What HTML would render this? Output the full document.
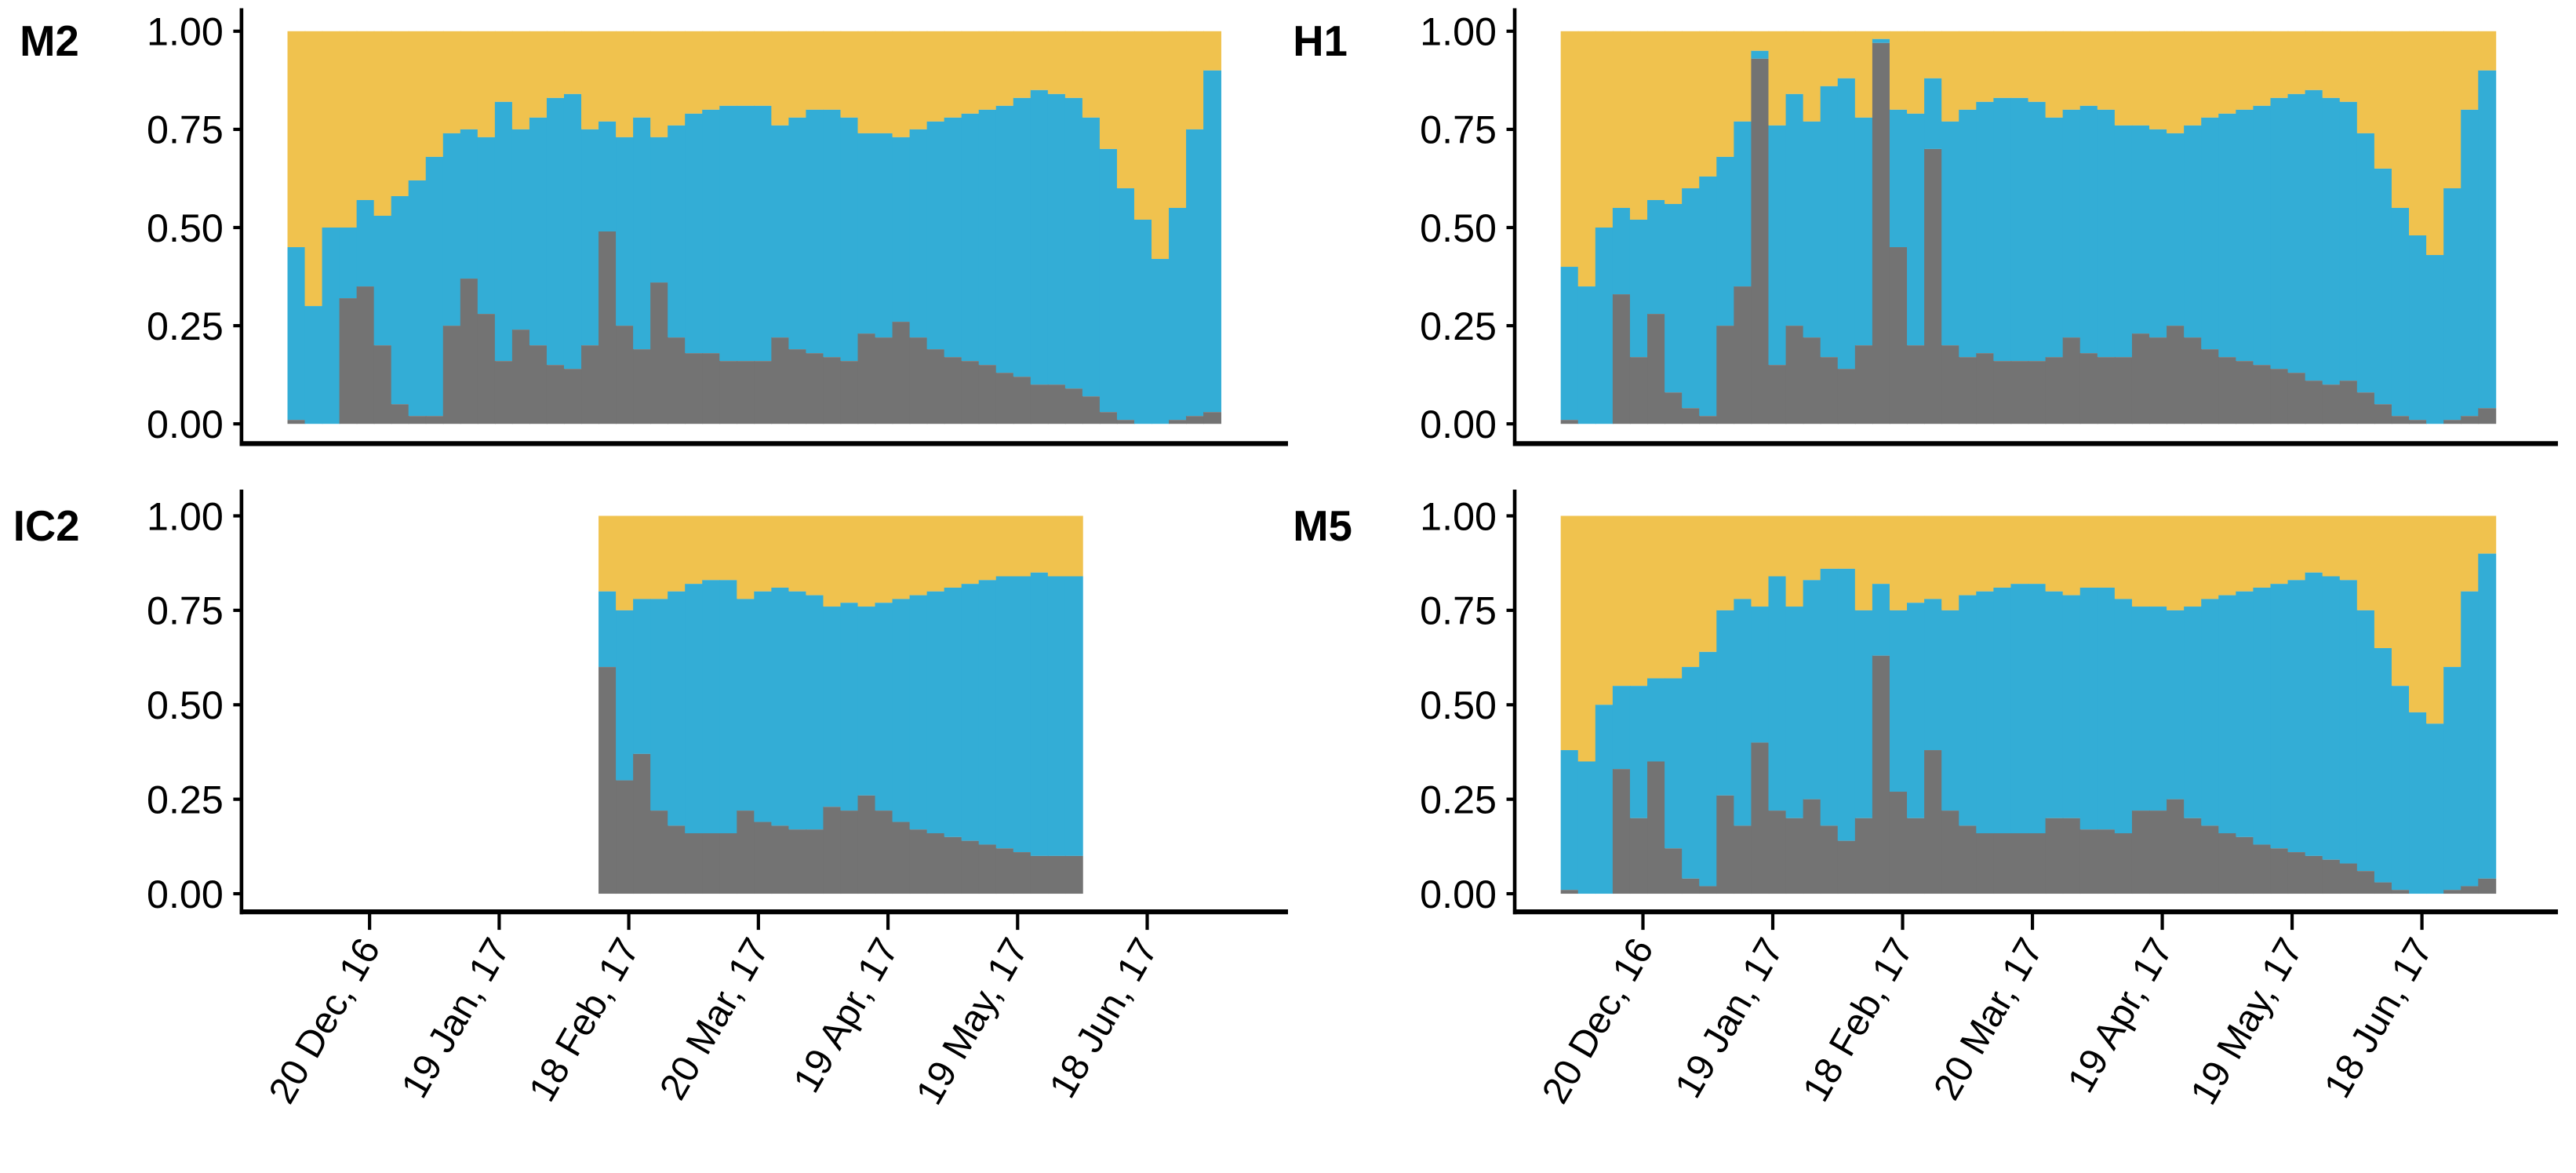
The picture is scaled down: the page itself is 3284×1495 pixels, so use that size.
<!DOCTYPE html>
<html><head><meta charset="utf-8"><style>
html,body{margin:0;padding:0;background:#fff;}
svg{display:block;}
text{font-family:"Liberation Sans",sans-serif;fill:#000;}
</style></head><body>
<svg id="fig" width="3284" height="1495" viewBox="0 0 1568 714" preserveAspectRatio="none" xmlns="http://www.w3.org/2000/svg"></svg>
<script>
// ---- data: index = 4-day bins starting ~1 Dec 2016 ----
const yTicks = [0, 0.25, 0.5, 0.75, 1];
const yTickLabels = ["0.00","0.25","0.50","0.75","1.00"];
const dateTickIdx = [4.75, 12.25, 19.75, 27.25, 34.75, 42.25, 49.75];
const dateTickLabels = ["20 Dec, 16","19 Jan, 17","18 Feb, 17","20 Mar, 17","19 Apr, 17","19 May, 17","18 Jun, 17"];
const panelNames = ["M2","H1","IC2","M5"];
const panelStart = [0, 0, 18, 0];
const greyM2 = [0.01,0,0,0.32,0.35,0.2,0.05,0.02,0.02,0.25,0.37,0.28,0.16,0.24,0.2,0.15,0.14,0.2,0.49,0.25,0.19,0.36,0.22,0.18,0.18,0.16,0.16,0.16,0.22,0.19,0.18,0.17,0.16,0.23,0.22,0.26,0.22,0.19,0.17,0.16,0.15,0.13,0.12,0.1,0.1,0.09,0.07,0.03,0.01,0,0,0.01,0.02,0.03];
const blueTopM2 = [0.45,0.3,0.5,0.5,0.57,0.53,0.58,0.62,0.68,0.74,0.75,0.73,0.82,0.75,0.78,0.83,0.84,0.75,0.77,0.73,0.78,0.73,0.76,0.79,0.8,0.81,0.81,0.81,0.76,0.78,0.8,0.8,0.78,0.74,0.74,0.73,0.75,0.77,0.78,0.79,0.8,0.81,0.83,0.85,0.84,0.83,0.78,0.7,0.6,0.52,0.42,0.55,0.75,0.9];
const greyH1 = [0.01,0,0,0.33,0.17,0.28,0.08,0.04,0.02,0.25,0.35,0.93,0.15,0.25,0.22,0.17,0.14,0.2,0.97,0.45,0.2,0.7,0.2,0.17,0.18,0.16,0.16,0.16,0.17,0.22,0.18,0.17,0.17,0.23,0.22,0.25,0.22,0.19,0.17,0.16,0.15,0.14,0.13,0.11,0.1,0.11,0.08,0.05,0.02,0.01,0,0.01,0.02,0.04];
const blueTopH1 = [0.4,0.35,0.5,0.55,0.52,0.57,0.56,0.6,0.63,0.68,0.77,0.95,0.76,0.84,0.77,0.86,0.88,0.78,0.98,0.8,0.79,0.88,0.77,0.8,0.82,0.83,0.83,0.82,0.78,0.8,0.81,0.8,0.76,0.76,0.75,0.74,0.76,0.78,0.79,0.8,0.81,0.83,0.84,0.85,0.83,0.82,0.74,0.65,0.55,0.48,0.43,0.6,0.8,0.9];
const greyIC2 = [0.6,0.3,0.37,0.22,0.18,0.16,0.16,0.16,0.22,0.19,0.18,0.17,0.17,0.23,0.22,0.26,0.22,0.19,0.17,0.16,0.15,0.14,0.13,0.12,0.11,0.1,0.1,0.1];
const blueTopIC2 = [0.8,0.75,0.78,0.78,0.8,0.82,0.83,0.83,0.78,0.8,0.81,0.8,0.79,0.76,0.77,0.76,0.77,0.78,0.79,0.8,0.81,0.82,0.83,0.84,0.84,0.85,0.84,0.84];
const greyM5 = [0.01,0,0,0.33,0.2,0.35,0.12,0.04,0.02,0.26,0.18,0.4,0.22,0.2,0.25,0.18,0.14,0.2,0.63,0.27,0.2,0.38,0.22,0.18,0.16,0.16,0.16,0.16,0.2,0.2,0.17,0.17,0.16,0.22,0.22,0.25,0.2,0.18,0.16,0.15,0.13,0.12,0.11,0.1,0.09,0.08,0.06,0.03,0.01,0,0,0.01,0.02,0.04];
const blueTopM5 = [0.38,0.35,0.5,0.55,0.55,0.57,0.57,0.6,0.64,0.75,0.78,0.76,0.84,0.76,0.83,0.86,0.86,0.75,0.82,0.75,0.77,0.78,0.75,0.79,0.8,0.81,0.82,0.82,0.8,0.79,0.81,0.81,0.78,0.76,0.76,0.75,0.76,0.78,0.79,0.8,0.81,0.82,0.83,0.85,0.84,0.83,0.75,0.65,0.55,0.48,0.45,0.6,0.8,0.9];
const greySeries = [greyM2, greyH1, greyIC2, greyM5];
const blueSeries = [blueTopM2, blueTopH1, blueTopIC2, blueTopM5];

const NS = "http://www.w3.org/2000/svg";
const svg = document.getElementById('fig');
const NBINS = 54;
const layouts = [
  {ax:147, x0:175, x1:743, y1:19, y0:258, axY:270, axTop:5, axEnd:784, tx:12, ty:34},
  {ax:922, x0:950, x1:1519, y1:19, y0:258, axY:270, axTop:5, axEnd:1557, tx:787, ty:34},
  {ax:147, x0:175, x1:743, y1:314, y0:544, axY:555, axTop:298, axEnd:784, tx:8, ty:329},
  {ax:922, x0:950, x1:1519, y1:314, y0:544, axY:555, axTop:298, axEnd:1557, tx:787, ty:329}
];
function mk(tag, attrs){const e=document.createElementNS(NS,tag);for(const k in attrs)e.setAttribute(k,attrs[k]);return e;}

layouts.forEach((L, p) => {
  const g = mk('g', {});
  
  
  svg.appendChild(g);
  const bw = (L.x1 - L.x0) / NBINS;
  const xs = i => L.x0 + i * bw;
  const ys = v => L.y0 - v * (L.y0 - L.y1);
  const grey = greySeries[p], blue = blueSeries[p], st = panelStart[p];
  for (let k = 0; k < grey.length; k++) {
    const x = xs(st + k), w = bw + 0.4;
    const ry = mk('rect', {x:x, y:ys(1), width:w, height:ys(blue[k]) - ys(1), fill:'#F0C24E'});
    
    
    g.appendChild(ry);
    const rb = mk('rect', {x:x, y:ys(blue[k]), width:w, height:ys(grey[k]) - ys(blue[k]), fill:'#33ADD6'});
    
    
    g.appendChild(rb);
    const rg = mk('rect', {x:x, y:ys(grey[k]), width:w, height:ys(0) - ys(grey[k]), fill:'#737373'});
    
    
    g.appendChild(rg);
  }
  const ya = mk('line', {x1:L.ax, y1:L.axTop, x2:L.ax, y2:L.axY + 1.5, stroke:'#000', 'stroke-width':2.2});
  
  
  g.appendChild(ya);
  const xa = mk('line', {x1:L.ax - 1, y1:L.axY, x2:L.axEnd, y2:L.axY, stroke:'#000', 'stroke-width':3});
  
  
  g.appendChild(xa);
  yTicks.forEach((v, i) => {
    const t = mk('line', {x1:L.ax - 5, y1:ys(v), x2:L.ax, y2:ys(v), stroke:'#000', 'stroke-width':2});
    
    
    g.appendChild(t);
    const tl = mk('text', {x:L.ax - 11, y:ys(v) + 8.5, 'text-anchor':'end', 'font-size':24});
    tl.textContent = yTickLabels[i];
    
    
    g.appendChild(tl);
  });
  const title = mk('text', {x:L.tx, y:L.ty, 'font-size':26, 'font-weight':'bold'});
  title.textContent = panelNames[p];
  
  
  g.appendChild(title);
  if (p >= 2) {
    dateTickIdx.forEach((d, i) => {
      const x = xs(d);
      const t = mk('line', {x1:x, y1:L.axY, x2:x, y2:L.axY + 11, stroke:'#000', 'stroke-width':2});
      
      
      g.appendChild(t);
      const tl = mk('text', {x:x + 7, y:L.axY + 22, 'text-anchor':'end', 'font-size':23,
        transform:'rotate(-60 ' + (x + 7) + ' ' + (L.axY + 22) + ')'});
      tl.textContent = dateTickLabels[i];
      
      
      g.appendChild(tl);
    });
  }
});
</script>
</body></html>
